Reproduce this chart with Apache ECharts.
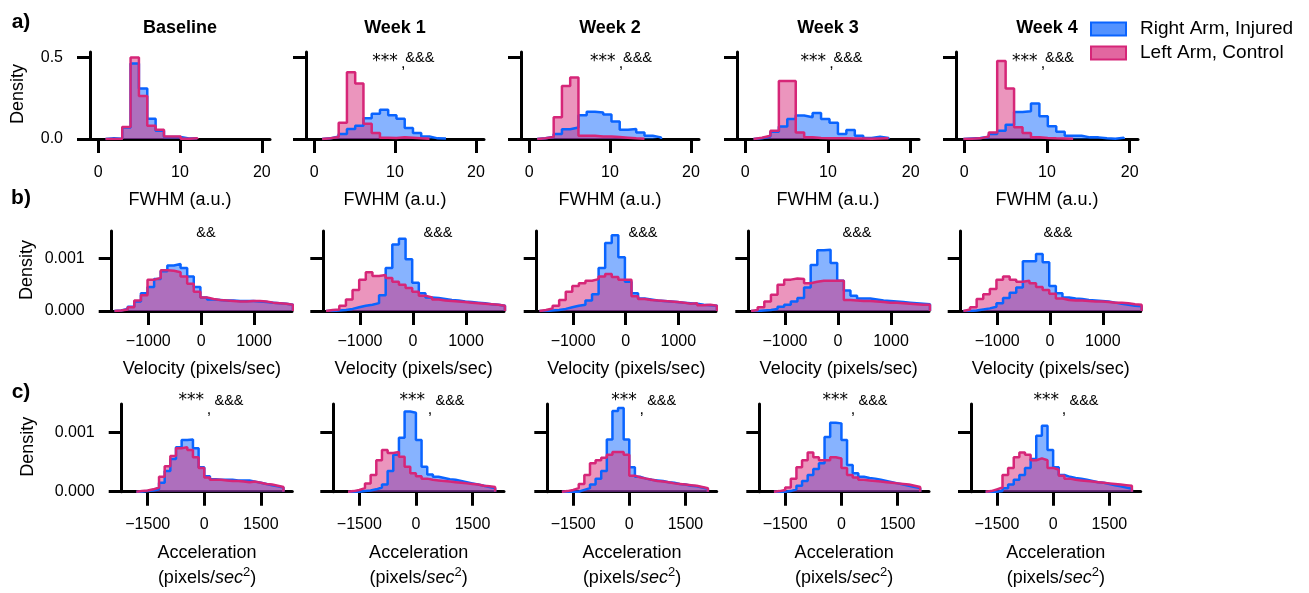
<!DOCTYPE html>
<html>
<head>
<meta charset="utf-8">
<script src="https://cdn.jsdelivr.net/npm/echarts@6.0.0/dist/echarts.min.js"></script>
<style>
  html, body { margin: 0; padding: 0; background: #fff; }
  #chart { width: 1309px; height: 593px; }
</style>
</head>
<body>
<div id="chart"></div>
<script>
// ---- data ----
const panelTitles = ['Baseline', 'Week 1', 'Week 2', 'Week 3', 'Week 4']
const rowLetters = ['a)', 'b)', 'c)']
const seriesNames = ['Right Arm, Injured', 'Left Arm, Control']

// a) FWHM histograms, one array per panel
const fwhmBinStart = [0.9, 1.0, 1.0, 1.0, -0.1]
const fwhmBinWidth = 1.02
const fwhmRight = [
  [0.004, 0.002, 0.07, 0.463, 0.31, 0.124, 0.05, 0.012, 0.012, 0.003, 0.004],
  [0.004, 0.015, 0.03, 0.061, 0.081, 0.128, 0.155, 0.179, 0.146, 0.124, 0.067, 0.037, 0.016, 0.004, 0.003],
  [0.004, 0.012, 0.03, 0.06, 0.07, 0.146, 0.167, 0.163, 0.15, 0.108, 0.057, 0.061, 0.04, 0.02, 0.01],
  [0.005, 0.015, 0.045, 0.076, 0.123, 0.144, 0.134, 0.16, 0.123, 0.1, 0.03, 0.056, 0.02, 0.006, 0.014, 0.006],
  [0.003, 0.006, 0.012, 0.03, 0.05, 0.088, 0.165, 0.17, 0.218, 0.14, 0.078, 0.045, 0.02, 0.02, 0.01, 0.01, 0.004, 0.002, 0.008]
]
const fwhmLeft = [
  [0, 0.002, 0.073, 0.5, 0.264, 0.081, 0.057, 0.016, 0.016, 0.002, 0.005],
  [0.005, 0.012, 0.1, 0.41, 0.34, 0.094, 0.037, 0.008, 0.006, 0.01, 0.008, 0.004, 0.002],
  [0.005, 0.012, 0.134, 0.325, 0.378, 0.02, 0.02, 0.015, 0.015, 0.012, 0.008, 0.004, 0.002],
  [0.008, 0.02, 0.05, 0.356, 0.356, 0.04, 0.01, 0.006, 0.005, 0.004, 0.004, 0.003, 0.003, 0.002, 0.003, 0.004],
  [0.002, 0.004, 0.015, 0.04, 0.478, 0.31, 0.072, 0.037, 0.01, 0.006, 0.004, 0.003, 0.002]
]

// b) velocity histograms
const velBinStart = -1640
const velBinWidth = 125
const velRight = [
  [0.00001, 0.00004, 0.00008, 0.00018, 0.00034, 0.00046, 0.00061, 0.00076, 0.00087, 0.0009, 0.00082, 0.00066, 0.00046, 0.00026, 0.00022, 0.00021, 0.0002, 0.0002, 0.00019, 0.00019, 0.00019, 0.00018, 0.00017, 0.00016, 0.00015, 0.00014, 0.00012],
  [0, 0.00001, 0.00002, 0.00004, 0.00007, 0.0001, 0.00012, 0.00015, 0.0003, 0.00082, 0.00127, 0.00138, 0.00099, 0.00054, 0.00034, 0.00026, 0.00025, 0.00023, 0.00021, 0.0002, 0.00018, 0.00017, 0.00016, 0.00015, 0.00013, 0.00012, 0.0001],
  [0, 0.00001, 0.00002, 0.00004, 0.00007, 0.0001, 0.00012, 0.0002, 0.00032, 0.00082, 0.0013, 0.00145, 0.00103, 0.00056, 0.00034, 0.00024, 0.00022, 0.0002, 0.00019, 0.00018, 0.00017, 0.00016, 0.00015, 0.00014, 0.00012, 0.00011, 0.0001],
  [0, 0.00001, 0.00002, 0.00004, 0.00008, 0.00012, 0.00018, 0.00025, 0.00045, 0.00088, 0.00116, 0.00117, 0.00092, 0.00058, 0.00039, 0.00029, 0.00024, 0.00024, 0.00022, 0.0002, 0.00019, 0.00018, 0.00017, 0.00016, 0.00015, 0.00014, 0.00013],
  [0, 0.00001, 0.00003, 0.00005, 0.00008, 0.00015, 0.00025, 0.00035, 0.00045, 0.00095, 0.00095, 0.00109, 0.00093, 0.00048, 0.00034, 0.00026, 0.00024, 0.00023, 0.00021, 0.0002, 0.00019, 0.00018, 0.00016, 0.00014, 0.00012, 0.0001, 0.00009]
]
const velLeft = [
  [0.00001, 0.00003, 0.00007, 0.0002, 0.0003, 0.0006, 0.00063, 0.00078, 0.00077, 0.00074, 0.00066, 0.00052, 0.00037, 0.00026, 0.00023, 0.00021, 0.0002, 0.00019, 0.00018, 0.00018, 0.00019, 0.00019, 0.00018, 0.00016, 0.00015, 0.00014, 0.00012],
  [0.00002, 0.00003, 0.0001, 0.00022, 0.0004, 0.0006, 0.00074, 0.00067, 0.00069, 0.00063, 0.00056, 0.0005, 0.00044, 0.00037, 0.00029, 0.00026, 0.00022, 0.0002, 0.00019, 0.00018, 0.00017, 0.00016, 0.00015, 0.00014, 0.00013, 0.00012, 0.0001],
  [0.00002, 0.00005, 0.0001, 0.00021, 0.00037, 0.00048, 0.00053, 0.00058, 0.00061, 0.00066, 0.00071, 0.00065, 0.0006, 0.0006, 0.00028, 0.00023, 0.00021, 0.0002, 0.00019, 0.00018, 0.00017, 0.00016, 0.00014, 0.00015, 0.00011, 0.00012, 0.0001],
  [0.00002, 0.00007, 0.00018, 0.00031, 0.0005, 0.0006, 0.00062, 0.00061, 0.00053, 0.00056, 0.00058, 0.00058, 0.00058, 0.00058, 0.00021, 0.0002, 0.00019, 0.00019, 0.00018, 0.00017, 0.00016, 0.00016, 0.00015, 0.00014, 0.00013, 0.00012, 0.00012],
  [0.00003, 0.00007, 0.00023, 0.00032, 0.00042, 0.0006, 0.00066, 0.0006, 0.00056, 0.00058, 0.00053, 0.00046, 0.0004, 0.00033, 0.00024, 0.00021, 0.0002, 0.0002, 0.00019, 0.00018, 0.00018, 0.00017, 0.00016, 0.00016, 0.00015, 0.00013, 0.00012]
]

// c) acceleration histograms
const accBinStart = -1800
const accBinWidth = 150
const accRight = [
  [0, 0.00001, 0.00002, 0.00004, 0.00015, 0.00035, 0.00055, 0.00075, 0.00087, 0.00088, 0.00073, 0.00041, 0.00026, 0.00021, 0.0002, 0.0002, 0.0002, 0.00019, 0.00019, 0.00019, 0.00017, 0.00015, 0.00013, 0.00011, 0.00009, 0.00007],
  [0, 0, 0.00001, 0.00002, 0.00004, 0.00007, 0.00012, 0.00035, 0.00062, 0.00091, 0.00135, 0.00133, 0.00087, 0.00042, 0.00029, 0.00025, 0.00023, 0.00021, 0.0002, 0.00018, 0.00016, 0.00014, 0.00012, 0.0001, 0.00008, 0.00006],
  [0, 0, 0, 0.00003, 0.00006, 0.00012, 0.00022, 0.00035, 0.00088, 0.00136, 0.00141, 0.00088, 0.00041, 0.00025, 0.00022, 0.0002, 0.00019, 0.00018, 0.00016, 0.00015, 0.00013, 0.00012, 0.0001, 0.00009, 0.00007, 0.00005],
  [0, 0, 0.00001, 0.00004, 0.0001, 0.00018, 0.00028, 0.00038, 0.00048, 0.00092, 0.00116, 0.00115, 0.00087, 0.00045, 0.00031, 0.00025, 0.00023, 0.00022, 0.0002, 0.00018, 0.00016, 0.00014, 0.00012, 0.0001, 0.00008, 0.00006],
  [0, 0, 0.00001, 0.00006, 0.00012, 0.0002, 0.00028, 0.0004, 0.00055, 0.00094, 0.00111, 0.0007, 0.00041, 0.00028, 0.00025, 0.00023, 0.00022, 0.0002, 0.00018, 0.00016, 0.00015, 0.00013, 0.00011, 0.00009, 0.00007, 0.00005]
]
const accLeft = [
  [0.00001, 0.00002, 0.00004, 0.00007, 0.00025, 0.00043, 0.0006, 0.00073, 0.00075, 0.0007, 0.00058, 0.0004, 0.00024, 0.0002, 0.0002, 0.00019, 0.00018, 0.00018, 0.00017, 0.00016, 0.00017, 0.00015, 0.00013, 0.00012, 0.0001, 0.00008],
  [0.00001, 0.00003, 0.00006, 0.00014, 0.00028, 0.00053, 0.0007, 0.00065, 0.00067, 0.00059, 0.00042, 0.00031, 0.00026, 0.00022, 0.0002, 0.00019, 0.00018, 0.00017, 0.00016, 0.00015, 0.00014, 0.00013, 0.00012, 0.0001, 0.00009, 0.00008],
  [0.00001, 0.00003, 0.00006, 0.00013, 0.00028, 0.00048, 0.00053, 0.00057, 0.00062, 0.00067, 0.00067, 0.00062, 0.00027, 0.00024, 0.00022, 0.0002, 0.00018, 0.00017, 0.00016, 0.00014, 0.00013, 0.00012, 0.00011, 0.0001, 0.00008, 0.00006],
  [0.00001, 0.00003, 0.00007, 0.00022, 0.00041, 0.00053, 0.00066, 0.00058, 0.00053, 0.00053, 0.00058, 0.00056, 0.0004, 0.00028, 0.00024, 0.0002, 0.00019, 0.00018, 0.00017, 0.00016, 0.00015, 0.00014, 0.00013, 0.00012, 0.0001, 0.00008],
  [0.00001, 0.00004, 0.00007, 0.00028, 0.0004, 0.00058, 0.00066, 0.00062, 0.00053, 0.00056, 0.00053, 0.0004, 0.00037, 0.00027, 0.00022, 0.0002, 0.00019, 0.00018, 0.00017, 0.00016, 0.00015, 0.00014, 0.00013, 0.00012, 0.00011, 0.0001]
]

// tick values and significance marks
const fwhmTicks = [0, 10, 20]
const velTicks = [-1000, 0, 1000]
const accTicks = [-1500, 0, 1500]
const fwhmDensityTicks = [0, 0.5]
const velDensityTicks = [0, 0.001]
const accDensityTicks = [0, 0.001]
const sigA = ['', '***,&&&', '***,&&&', '***,&&&', '***,&&&']
const sigB = ['&&', '&&&', '&&&', '&&&', '&&&']
const sigC = ['***,&&&', '***,&&&', '***,&&&', '***,&&&', '***,&&&']

// ---- styling / layout ----
const FONT = '"Liberation Sans", Arial, Helvetica, sans-serif'
const STAR_FONT = '17px "DejaVu Sans", sans-serif'
const BLUE = '#0a64ff'
const BLUE_FILL = 'rgba(10,100,255,0.7)'
const PINK = '#d62678'
const PINK_FILL = 'rgba(214,38,120,0.7)'

const rows = [
  {
    left: [90, 306, 521, 737, 956], right: [270, 484, 699, 919, 1138], top: 52, bottom: 139,
    xMin: -1, xMax: 21, yMax: 0.534, digits: 1, xMargin: 26, nameGap: 50,
    name: 'FWHM (a.u.)', start: fwhmBinStart, width: fwhmBinWidth, right_: fwhmRight, left_: fwhmLeft,
    xTicks: fwhmTicks, yTicks: fwhmDensityTicks, sig: sigA, sigX: [0, 403.3, 621, 831.5, 1043],
    ampY: 57.5, starY: 61.5, commaY: 63.5, starGap: 5.5, ampGap: 2, densityPos: [18, 94], letterY: 22
  },
  {
    left: [111.7, 323.3, 536.7, 748.3, 960.7], right: [292, 504, 716, 929, 1140.7], top: 231, bottom: 311,
    xMin: -1692, xMax: 1717, yMax: 0.00153, digits: 3, xMargin: 23, nameGap: 47,
    name: 'Velocity (pixels/sec)', start: velBinStart, width: velBinWidth, right_: velRight, left_: velLeft,
    xTicks: velTicks, yTicks: velDensityTicks, sig: sigB, sigX: [206, 438, 643, 857, 1058],
    ampY: 233, densityPos: [26.7, 270], letterY: 198
  },
  {
    left: [121.7, 333.3, 547.3, 759.3, 971], right: [292.3, 504, 716.7, 929, 1140.7], top: 404, bottom: 491.7,
    xMin: -2190, xMax: 2335, yMax: 0.001476, digits: 3, xMargin: 25, nameGap: 49,
    name: '{n|Acceleration}\n{n|(pixels/}{i|sec}{s|2}{n|)}', start: accBinStart, width: accBinWidth, right_: accRight, left_: accLeft,
    xTicks: accTicks, yTicks: accDensityTicks, sig: sigC, sigX: [209, 430, 641.7, 853, 1064],
    ampY: 400.5, starY: 401, commaY: 410, starGap: 5, ampGap: 5.5, densityPos: [28.3, 446.7], letterY: 392
  }
]

const fmtMinus = v => String(v).replace('-', '\u2212')

function histPoints (start, width, heights) {
  const pts = [[start, 0]]
  heights.forEach((h, i) => pts.push([start + i * width, h]))
  pts.push([start + heights.length * width, 0])
  return pts
}

function text (x, y, str, font, align, extra) {
  return Object.assign({
    type: 'text', x: x, y: y, silent: true,
    style: {
      text: str, font: font, fill: '#000',
      align: align || 'center', textAlign: align || 'center',
      verticalAlign: 'middle', textVerticalAlign: 'middle'
    }
  }, extra || {})
}

const grids = []
const xAxes = []
const yAxes = []
const series = []
const graphics = []

rows.forEach((row, r) => {
  for (let p = 0; p < 5; p++) {
    const idx = grids.length
    grids.push({
      left: row.left[p], top: row.top,
      width: row.right[p] - row.left[p], height: row.bottom - row.top,
      containLabel: false, outerBoundsMode: 'none'
    })
    xAxes.push({
      gridIndex: idx, type: 'value', min: row.xMin, max: row.xMax,
      axisLine: { show: true, onZero: false, lineStyle: { color: '#000', width: 3 } },
      axisTick: { show: true, inside: false, length: 14, lineStyle: { color: '#000', width: 3 }, customValues: row.xTicks },
      axisLabel: { show: true, margin: row.xMargin, fontSize: 16, color: '#000', fontFamily: FONT, customValues: row.xTicks, formatter: fmtMinus },
      splitLine: { show: false },
      name: row.name, nameLocation: 'middle', nameGap: row.nameGap,
      nameTextStyle: {
        fontSize: 18, color: '#000', fontFamily: FONT, lineHeight: r === 2 ? 25 : 22,
        rich: {
          n: { fontSize: 18, lineHeight: 25, fontFamily: FONT, color: '#000' },
          i: { fontSize: 18, lineHeight: 25, fontStyle: 'italic', fontFamily: FONT, color: '#000' },
          s: { fontSize: 13, lineHeight: 25, verticalAlign: 'top', fontFamily: FONT, color: '#000' }
        }
      }
    })
    yAxes.push({
      gridIndex: idx, type: 'value', min: 0, max: row.yMax,
      axisLine: { show: true, onZero: false, lineStyle: { color: '#000', width: 3 } },
      axisTick: { show: true, inside: false, length: 13, lineStyle: { color: '#000', width: 3 }, customValues: row.yTicks },
      axisLabel: {
        show: p === 0, margin: 27, fontSize: 16, color: '#000', fontFamily: FONT,
        customValues: row.yTicks, formatter: v => v.toFixed(row.digits)
      },
      splitLine: { show: false }
    })
    const start = Array.isArray(row.start) ? row.start[p] : row.start
    series.push({
      name: seriesNames[0], type: 'line', xAxisIndex: idx, yAxisIndex: idx, step: 'end',
      symbol: 'none', silent: true, animation: false,
      data: histPoints(start, row.width, row.right_[p]),
      lineStyle: { color: BLUE, width: 2.5 }, itemStyle: { color: BLUE },
      areaStyle: { color: BLUE_FILL, origin: 'start' }
    })
    series.push({
      name: seriesNames[1], type: 'line', xAxisIndex: idx, yAxisIndex: idx, step: 'end',
      symbol: 'none', silent: true, animation: false,
      data: histPoints(start, row.width, row.left_[p]),
      lineStyle: { color: PINK, width: 2.5 }, itemStyle: { color: PINK },
      areaStyle: { color: PINK_FILL, origin: 'start' }
    })

    // significance marks
    const sig = row.sig[p]
    if (sig) {
      const f = '14.5px ' + FONT
      const cx = row.sigX[p]
      if (sig.indexOf(',') >= 0) {
        const parts = sig.split(',')
        graphics.push(text(cx - row.starGap, row.starY, parts[0], STAR_FONT, 'right'))
        graphics.push(text(cx, row.commaY, ',', '16px ' + FONT))
        graphics.push(text(cx + row.ampGap, row.ampY, parts[1], f, 'left'))
      } else {
        graphics.push(text(cx, row.ampY, sig, f))
      }
    }
  }
  // row letter and y label
  graphics.push(text(21, row.letterY, rowLetters[r], 'bold 21px ' + FONT))
  graphics.push(text(row.densityPos[0], row.densityPos[1], 'Density', '18px ' + FONT, 'center', { rotation: Math.PI / 2 }))
})

// panel titles
panelTitles.forEach((t, p) => {
  graphics.push(text((rows[0].left[p] + rows[0].right[p]) / 2, 28, t, 'bold 18px ' + FONT))
})

// legend
const legendItems = [[seriesNames[0], BLUE, BLUE_FILL, 29], [seriesNames[1], PINK, PINK_FILL, 53]]
legendItems.forEach(([label, edge, fill, y]) => {
  graphics.push({
    type: 'rect', silent: true,
    shape: { x: 1091, y: y - 6.5, width: 35, height: 13 },
    style: { fill: fill, stroke: edge, lineWidth: 2 }
  })
  graphics.push(text(1140, y, label, '19px ' + FONT, 'left'))
})

const chart = echarts.init(document.getElementById('chart'))
chart.setOption({
  animation: false,
  textStyle: { fontFamily: FONT },
  grid: grids,
  xAxis: xAxes,
  yAxis: yAxes,
  series: series,
  graphic: graphics
})
</script>
</body>
</html>
